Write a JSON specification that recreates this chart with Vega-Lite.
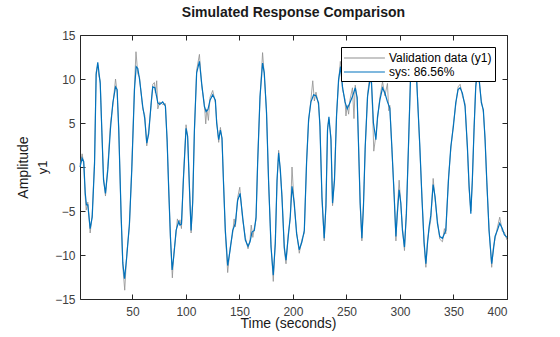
{
"$schema": "https://vega.github.io/schema/vega-lite/v6.json",
"width": 427, "height": 264,
"padding": {"left": 16, "top": 6, "right": 5, "bottom": 5},
"background": "white",
"title": {"text": "Simulated Response Comparison", "fontSize": 14, "fontWeight": "bold", "font": "Liberation Sans", "color": "#1a1a1a", "offset": 9},
"config": {
 "font": "Liberation Sans",
 "view": {"stroke": "#262626", "strokeWidth": 1},
 "axis": {"grid": false, "domain": false, "tickColor": "#262626", "tickWidth": 1, "labelFont": "Liberation Sans", "labelFontSize": 12, "labelColor": "#404040", "titleFont": "Liberation Sans", "titleFontWeight": "normal", "titleColor": "#1a1a1a", "minExtent": 0}
},
"datasets": {
"sim": [
{"t":1,"y":0.0},{"t":3,"y":1.0},{"t":4.5,"y":0.6},{"t":5.9,"y":-3.0},{"t":7,"y":-4.3},{"t":8.3,"y":-4.3},{"t":10.5,"y":-7.0},{"t":12.4,"y":-5.7},{"t":14.6,"y":0.4},{"t":16.1,"y":10.5},{"t":17.6,"y":11.9},{"t":19.9,"y":9.5},{"t":21.4,"y":4.2},{"t":23,"y":-1.5},{"t":24.8,"y":-3.0},{"t":27,"y":-0.3},{"t":29.5,"y":4.4},{"t":31.7,"y":7.3},{"t":34.2,"y":9.1},{"t":35.7,"y":8.8},{"t":37.2,"y":4.2},{"t":39.5,"y":-5.7},{"t":41,"y":-10.9},{"t":42.6,"y":-12.7},{"t":44.7,"y":-10.2},{"t":47.2,"y":-6.4},{"t":49.4,"y":-0.3},{"t":51.9,"y":8.8},{"t":53.5,"y":11.4},{"t":55,"y":11.2},{"t":56.6,"y":10.0},{"t":59.6,"y":6.9},{"t":61.5,"y":5.5},{"t":63.4,"y":2.7},{"t":65.2,"y":3.8},{"t":67.5,"y":7.3},{"t":69,"y":9.1},{"t":71,"y":9.0},{"t":73.7,"y":7.3},{"t":75.5,"y":7.1},{"t":78.3,"y":7.4},{"t":80.8,"y":6.9},{"t":82.4,"y":3.1},{"t":83.9,"y":-2.6},{"t":85.5,"y":-7.9},{"t":87.1,"y":-11.7},{"t":88.6,"y":-10.2},{"t":90.8,"y":-7.2},{"t":93.2,"y":-6.2},{"t":94.4,"y":-6.6},{"t":95.8,"y":-6.5},{"t":97.6,"y":-1.5},{"t":100.1,"y":4.4},{"t":101.6,"y":3.5},{"t":103.2,"y":-2.2},{"t":104.8,"y":-7.2},{"t":106.3,"y":-4.1},{"t":107.9,"y":4.2},{"t":110,"y":10.7},{"t":112.6,"y":12.0},{"t":114.7,"y":9.5},{"t":117.2,"y":6.9},{"t":118.8,"y":6.3},{"t":120.5,"y":6.5},{"t":122.5,"y":7.6},{"t":125,"y":8.2},{"t":127.5,"y":7.6},{"t":128.7,"y":5.0},{"t":130.6,"y":3.1},{"t":132.2,"y":4.2},{"t":133.7,"y":3.3},{"t":135,"y":-1.5},{"t":136.8,"y":-7.2},{"t":139,"y":-11.2},{"t":141.2,"y":-9.5},{"t":143.7,"y":-7.2},{"t":146.2,"y":-6.4},{"t":148.3,"y":-3.8},{"t":150.6,"y":-3.0},{"t":153,"y":-5.7},{"t":155.5,"y":-8.3},{"t":158,"y":-9.0},{"t":159.9,"y":-8.5},{"t":161.7,"y":-7.4},{"t":163.9,"y":-7.2},{"t":165.5,"y":-5.7},{"t":167,"y":0.4},{"t":169.2,"y":8.0},{"t":171.6,"y":11.8},{"t":173.2,"y":10.7},{"t":175.3,"y":6.1},{"t":177.2,"y":-1.5},{"t":179.5,"y":-9.1},{"t":181.6,"y":-12.3},{"t":183.5,"y":-8.7},{"t":185.1,"y":-1.5},{"t":186.6,"y":1.6},{"t":188.2,"y":-0.3},{"t":189.7,"y":-3.4},{"t":191.9,"y":-9.1},{"t":193.5,"y":-10.6},{"t":195.6,"y":-7.9},{"t":197.5,"y":-5.6},{"t":199.1,"y":-2.2},{"t":201.2,"y":-4.1},{"t":203.4,"y":-7.6},{"t":205.9,"y":-9.4},{"t":208.4,"y":-8.5},{"t":210.6,"y":-7.2},{"t":212.7,"y":0.4},{"t":214.6,"y":5.4},{"t":216.8,"y":7.4},{"t":219.3,"y":8.2},{"t":221.5,"y":8.1},{"t":223.9,"y":7.3},{"t":225.2,"y":4.6},{"t":227.1,"y":-3.4},{"t":229.2,"y":-8.1},{"t":230.8,"y":-4.5},{"t":232.3,"y":4.2},{"t":233.6,"y":5.7},{"t":235.5,"y":3.1},{"t":237,"y":-4.1},{"t":238.8,"y":-1.5},{"t":240.7,"y":5.7},{"t":242.6,"y":9.9},{"t":244.5,"y":11.4},{"t":246.3,"y":9.1},{"t":248.6,"y":7.4},{"t":250.7,"y":6.6},{"t":253.2,"y":7.3},{"t":255.6,"y":8.0},{"t":258.2,"y":9.0},{"t":260,"y":7.9},{"t":261.3,"y":2.3},{"t":262.8,"y":-4.1},{"t":264.4,"y":-8.1},{"t":265.9,"y":-4.4},{"t":267.5,"y":2.3},{"t":269.7,"y":8.0},{"t":271.9,"y":9.9},{"t":273.4,"y":9.6},{"t":275.2,"y":5.0},{"t":277.5,"y":3.1},{"t":279,"y":5.7},{"t":281.2,"y":7.6},{"t":283.7,"y":9.0},{"t":285.9,"y":8.4},{"t":288.3,"y":7.4},{"t":290.5,"y":6.7},{"t":292.4,"y":2.3},{"t":294.6,"y":-3.4},{"t":296.2,"y":-7.9},{"t":297.4,"y":-5.5},{"t":299.2,"y":-2.6},{"t":300.8,"y":-4.1},{"t":302.3,"y":-7.2},{"t":304.2,"y":-9.1},{"t":306,"y":-5.3},{"t":307.9,"y":2.3},{"t":309.8,"y":9.9},{"t":311.6,"y":11.8},{"t":313.3,"y":12.4},{"t":315,"y":11.5},{"t":316.5,"y":7.5},{"t":318.5,"y":2.5},{"t":320.5,"y":-3.5},{"t":322.5,"y":-8.5},{"t":324.2,"y":-11.0},{"t":325.7,"y":-8.7},{"t":327.2,"y":-6.8},{"t":328.8,"y":-5.5},{"t":331,"y":-2.0},{"t":332.8,"y":-3.4},{"t":335,"y":-6.4},{"t":337.2,"y":-7.9},{"t":339.7,"y":-8.1},{"t":342.8,"y":-7.2},{"t":345.3,"y":-1.5},{"t":347.5,"y":2.3},{"t":349.9,"y":4.6},{"t":352.1,"y":7.3},{"t":354.3,"y":8.8},{"t":356.2,"y":9.0},{"t":358.3,"y":8.4},{"t":360.8,"y":6.9},{"t":363,"y":2.3},{"t":364.6,"y":-2.2},{"t":366.2,"y":-5.3},{"t":367.6,"y":-1.5},{"t":369.2,"y":4.2},{"t":370.8,"y":9.1},{"t":372.3,"y":10.7},{"t":373.9,"y":10.1},{"t":376,"y":7.3},{"t":377.9,"y":6.5},{"t":379.5,"y":3.1},{"t":381.1,"y":-1.5},{"t":383.2,"y":-7.2},{"t":385.7,"y":-11.0},{"t":387.2,"y":-9.5},{"t":388.8,"y":-7.9},{"t":391,"y":-7.2},{"t":393.2,"y":-6.4},{"t":395.6,"y":-7.0},{"t":397.5,"y":-7.7},{"t":400,"y":-8.0}
],
"val": [
{"t":1,"y":0.3},{"t":2,"y":0.8},{"t":3,"y":1.5},{"t":4.5,"y":0.3},{"t":5.9,"y":-3.4},{"t":6.8,"y":-4.9},{"t":8.3,"y":-4.0},{"t":9.5,"y":-5.8},{"t":10.5,"y":-7.5},{"t":12.4,"y":-5.4},{"t":14.6,"y":0.8},{"t":16.1,"y":10.8},{"t":17.6,"y":11.6},{"t":18.5,"y":10.4},{"t":19.9,"y":9.8},{"t":21.4,"y":3.9},{"t":23,"y":-1.2},{"t":24.8,"y":-3.3},{"t":27,"y":0.1},{"t":29.5,"y":5.0},{"t":31.7,"y":7.0},{"t":34.2,"y":10.0},{"t":35.7,"y":8.5},{"t":37.2,"y":4.5},{"t":39.5,"y":-6.0},{"t":41,"y":-11.3},{"t":42.8,"y":-14.0},{"t":44.7,"y":-9.8},{"t":47.2,"y":-6.8},{"t":49.4,"y":0.1},{"t":51.9,"y":9.2},{"t":53.3,"y":13.1},{"t":55,"y":10.6},{"t":56.6,"y":10.2},{"t":59.6,"y":6.6},{"t":61.5,"y":5.9},{"t":63.4,"y":2.4},{"t":65.2,"y":4.2},{"t":67.5,"y":7.0},{"t":69,"y":9.4},{"t":70.5,"y":9.6},{"t":71.5,"y":8.4},{"t":72.7,"y":9.8},{"t":73.7,"y":6.6},{"t":75.5,"y":7.4},{"t":78.3,"y":7.1},{"t":80.8,"y":7.2},{"t":82.4,"y":2.8},{"t":83.9,"y":-2.3},{"t":85.5,"y":-8.2},{"t":87.3,"y":-12.6},{"t":88.6,"y":-9.9},{"t":90.8,"y":-7.5},{"t":92,"y":-5.9},{"t":93.2,"y":-6.5},{"t":94.4,"y":-6.0},{"t":95.8,"y":-7.0},{"t":97.6,"y":-1.2},{"t":100.1,"y":4.8},{"t":101.6,"y":3.2},{"t":103.2,"y":-1.9},{"t":104.8,"y":-7.5},{"t":106.3,"y":-3.8},{"t":107.9,"y":3.9},{"t":110,"y":11.0},{"t":112.6,"y":12.8},{"t":114.7,"y":9.2},{"t":117.2,"y":7.2},{"t":118.5,"y":4.9},{"t":119.5,"y":6.6},{"t":121,"y":5.3},{"t":122.5,"y":7.9},{"t":125,"y":8.7},{"t":127.5,"y":7.3},{"t":128.7,"y":5.3},{"t":130.6,"y":2.8},{"t":132.2,"y":4.5},{"t":133.7,"y":3.0},{"t":135,"y":-1.2},{"t":136.8,"y":-7.5},{"t":139,"y":-12.0},{"t":141.2,"y":-9.2},{"t":143.7,"y":-7.5},{"t":145,"y":-5.9},{"t":146.2,"y":-6.8},{"t":148.3,"y":-3.5},{"t":150.3,"y":-2.3},{"t":153,"y":-6.0},{"t":155.5,"y":-8.0},{"t":158,"y":-9.3},{"t":159.9,"y":-8.2},{"t":161,"y":-6.6},{"t":162.5,"y":-8.0},{"t":163.9,"y":-6.9},{"t":165.5,"y":-6.0},{"t":167,"y":0.8},{"t":169.2,"y":7.7},{"t":171.6,"y":13.0},{"t":173.2,"y":10.4},{"t":175.3,"y":6.4},{"t":177.2,"y":-1.8},{"t":179.5,"y":-8.8},{"t":181.6,"y":-13.0},{"t":183.5,"y":-8.4},{"t":185.1,"y":-1.8},{"t":186.6,"y":1.9},{"t":188.2,"y":-0.6},{"t":189.7,"y":-3.1},{"t":191.9,"y":-9.4},{"t":193.5,"y":-11.0},{"t":195.6,"y":-7.6},{"t":197.5,"y":-5.9},{"t":199.1,"y":0.0},{"t":201.2,"y":-4.4},{"t":203.4,"y":-7.3},{"t":205.9,"y":-9.8},{"t":208.4,"y":-8.2},{"t":210.6,"y":-7.5},{"t":212.7,"y":0.7},{"t":214.6,"y":5.1},{"t":216.8,"y":7.7},{"t":218.5,"y":9.8},{"t":220,"y":7.5},{"t":221.5,"y":8.5},{"t":223.9,"y":7.0},{"t":225.2,"y":4.9},{"t":227.1,"y":-3.7},{"t":229.2,"y":-8.4},{"t":230.8,"y":-4.2},{"t":232.3,"y":4.5},{"t":233.6,"y":5.4},{"t":235.5,"y":3.4},{"t":237,"y":-4.4},{"t":238.8,"y":-1.2},{"t":240.7,"y":6.0},{"t":242.6,"y":9.6},{"t":244.3,"y":12.0},{"t":246.3,"y":8.8},{"t":248.6,"y":7.7},{"t":249.5,"y":5.8},{"t":250.7,"y":7.0},{"t":252,"y":6.0},{"t":253.2,"y":7.6},{"t":255.6,"y":9.0},{"t":257,"y":5.5},{"t":258.2,"y":9.3},{"t":260,"y":7.6},{"t":261.3,"y":2.6},{"t":262.8,"y":-4.4},{"t":264.4,"y":-8.4},{"t":265.9,"y":-4.1},{"t":267.5,"y":2.0},{"t":269.7,"y":8.3},{"t":271.9,"y":10.4},{"t":273.4,"y":9.3},{"t":274.5,"y":6.0},{"t":275.5,"y":1.8},{"t":277.5,"y":3.6},{"t":279,"y":5.4},{"t":281.2,"y":7.9},{"t":283.7,"y":9.7},{"t":285.9,"y":8.1},{"t":288.3,"y":9.5},{"t":289.5,"y":6.4},{"t":290.5,"y":7.0},{"t":292.4,"y":2.0},{"t":294.6,"y":-3.1},{"t":296.2,"y":-8.4},{"t":297.4,"y":-5.2},{"t":299.2,"y":-1.5},{"t":300.8,"y":-4.4},{"t":302.3,"y":-6.9},{"t":304.2,"y":-9.5},{"t":306,"y":-5.0},{"t":307.9,"y":2.0},{"t":309.8,"y":10.2},{"t":311.6,"y":11.5},{"t":313.3,"y":12.8},{"t":315,"y":11.2},{"t":316.5,"y":7.8},{"t":318.5,"y":2.2},{"t":320.5,"y":-3.2},{"t":322.5,"y":-8.8},{"t":324.2,"y":-11.4},{"t":325.7,"y":-8.4},{"t":327.2,"y":-7.1},{"t":328.8,"y":-6.0},{"t":331,"y":-1.3},{"t":332.8,"y":-3.7},{"t":335,"y":-6.1},{"t":337.2,"y":-8.2},{"t":339.7,"y":-8.5},{"t":341.5,"y":-7.0},{"t":342.8,"y":-7.6},{"t":345.3,"y":-1.2},{"t":347.5,"y":2.0},{"t":349.9,"y":4.9},{"t":352.1,"y":7.0},{"t":354.3,"y":9.1},{"t":356.2,"y":9.4},{"t":358.3,"y":8.1},{"t":360.8,"y":7.2},{"t":363,"y":2.0},{"t":364.6,"y":-2.5},{"t":366.2,"y":-5.0},{"t":367.6,"y":-1.8},{"t":369.2,"y":4.5},{"t":370.8,"y":9.4},{"t":371.8,"y":12.0},{"t":373.9,"y":9.8},{"t":376,"y":7.6},{"t":377.9,"y":6.2},{"t":379.5,"y":3.4},{"t":381.1,"y":-1.8},{"t":383.2,"y":-6.9},{"t":385.7,"y":-11.4},{"t":387.2,"y":-9.2},{"t":388.8,"y":-8.2},{"t":391,"y":-6.9},{"t":393.2,"y":-5.7},{"t":395.6,"y":-7.3},{"t":397.5,"y":-7.4},{"t":400,"y":-8.3}
]
},
"resolve": {"axis": {"x": "independent", "y": "independent"}},
"layer": [
 {
  "data": {"name": "val"},
  "mark": {"type": "line", "strokeWidth": 0.8},
  "encoding": {
   "x": {"field": "t", "type": "quantitative", "scale": {"domain": [1, 400], "nice": false, "zero": false},
         "axis": {"orient": "bottom", "values": [50,100,150,200,250,300,350,400], "tickSize": -5, "labelPadding": 12, "title": "Time (seconds)", "titleFontSize": 14, "titlePadding": -1, "titleX": 208}},
   "y": {"field": "y", "type": "quantitative", "scale": {"domain": [-15, 15], "nice": false, "zero": false},
         "axis": {"orient": "left", "labels": false, "ticks": false, "title": "Amplitude", "titleFontSize": 14, "titlePadding": 50}},
   "color": {"datum": "Validation data (y1)", "type": "nominal",
     "scale": {"domain": ["Validation data (y1)", "sys: 86.56%"], "range": ["#8f8f8f", "#0072BD"]},
     "legend": {"title": null, "orient": "top-right", "offset": 12, "fillColor": "white", "strokeColor": "#000000", "padding": 3, "labelFontSize": 12, "labelColor": "#000000", "labelFont": "Liberation Sans", "symbolType": "M-1.15,0H4.7", "symbolSize": 196, "symbolStrokeWidth": 1.2, "rowPadding": 0, "labelOffset": 29}}
  }
 },
 {
  "data": {"name": "sim"},
  "mark": {"type": "line", "strokeWidth": 1.2},
  "encoding": {
   "x": {"field": "t", "type": "quantitative", "axis": {"orient": "top", "values": [50,100,150,200,250,300,350,400], "tickSize": -5, "labels": false, "title": null}},
   "y": {"field": "y", "type": "quantitative", "axis": {"orient": "left", "values": [-15,-10,-5,0,5,10,15], "tickSize": -5, "labelPadding": 10, "title": "y1", "titleFontSize": 13, "titlePadding": 5}},
   "color": {"datum": "sys: 86.56%", "type": "nominal"}
  }
 },
 {
  "data": {"name": "sim"},
  "mark": {"type": "line", "opacity": 0},
  "encoding": {
   "x": {"field": "t", "type": "quantitative", "axis": null},
   "y": {"field": "y", "type": "quantitative", "axis": {"orient": "right", "values": [-15,-10,-5,0,5,10,15], "tickSize": -5, "labels": false, "title": null}}
  }
 }
]
}
